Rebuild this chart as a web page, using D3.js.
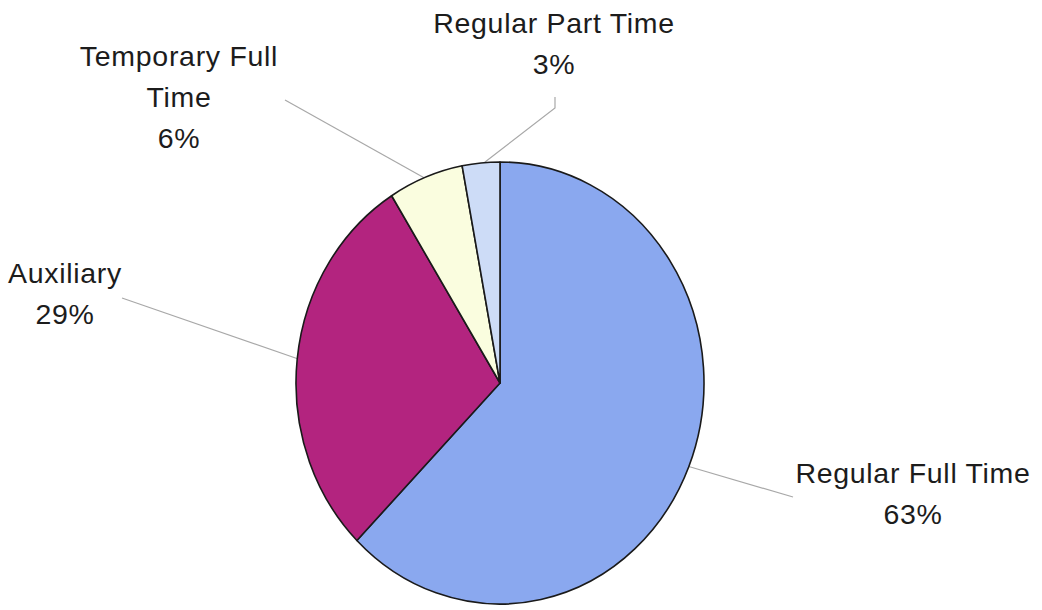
<!DOCTYPE html>
<html>
<head>
<meta charset="utf-8">
<script src="https://cdn.jsdelivr.net/npm/d3@7"></script>
<style>
  html, body { margin: 0; padding: 0; background: #fff; }
  svg { display: block; }
  text { font-family: "Liberation Sans", Arial, sans-serif; fill: #1c1c1c; }
</style>
</head>
<body>
<svg id="chart" width="1042" height="610"></svg>
<script>
// Staff by employment type (share of total, %)
const categories = ["Regular Full Time", "Auxiliary", "Temporary Full Time", "Regular Part Time"];
const values = [63, 29, 6, 3];
const labelLines = [["Regular Full Time"], ["Auxiliary"], ["Temporary Full", "Time"], ["Regular Part Time"]];
const colors = ["#8aa8ef", "#b3247f", "#fafddf", "#cddcf7"];

const width = 1042, height = 610;
const cx = 500, cy = 383;
const ry = 221, rx = 204;          // slightly oval pie
const sx = rx / ry;

const svg = d3.select("#chart");

const pie = d3.pie().sort(null).value(d => d.value);
const arcs = pie(categories.map((c, i) => ({ name: c, value: values[i], lines: labelLines[i], color: colors[i] })));

const arc = d3.arc().innerRadius(0).outerRadius(ry);

// map an angle on the circle to a point on the oval rim
const toOval = (angle, r) => [cx + Math.sin(angle) * r * sx, cy - Math.cos(angle) * r];

// label anchor points and leader waypoints (leaders start at slice mid-angle)
const labelLayout = {
  "Regular Full Time":   { x: 913, y: 483, leader: [[793, 497]] },
  "Auxiliary":           { x: 65,  y: 283, leader: [[122, 298]] },
  "Temporary Full Time": { x: 179, y: 66,  leader: [[285, 100]] },
  "Regular Part Time":   { x: 554, y: 33,  leader: [[555, 108], [555, 97]] }
};

// leader lines drawn first so slices sit above them
const lineGen = d3.line();
arcs.forEach(a => {
  const lay = labelLayout[a.data.name];
  const mid = (a.startAngle + a.endAngle) / 2;
  const pts = [toOval(mid, ry - 2)].concat(lay.leader);
  svg.append("path")
    .attr("d", lineGen(pts.reverse()))
    .attr("fill", "none")
    .attr("stroke", "#a8a8a8")
    .attr("stroke-width", 1.2);
});

const g = svg.append("g")
  .attr("transform", `translate(${cx},${cy}) scale(${sx},1)`);

g.selectAll("path.slice")
  .data(arcs)
  .join("path")
  .attr("class", "slice")
  .attr("d", arc)
  .attr("fill", d => d.data.color)
  .attr("stroke", "#1a1a1a")
  .attr("stroke-width", 1.6)
  .attr("vector-effect", "non-scaling-stroke")
  .attr("stroke-linejoin", "round");

// labels: name lines then percentage
const lineH = 41;
arcs.forEach(a => {
  const lay = labelLayout[a.data.name];
  const t = svg.append("text")
    .attr("text-anchor", "middle")
    .attr("font-size", 28.5)
    .attr("letter-spacing", 0.7);
  const lines = a.data.lines.concat([d3.format(".0f")(a.data.value) + "%"]);
  lines.forEach((ln, i) => {
    t.append("tspan")
      .attr("x", lay.x)
      .attr("y", lay.y + i * lineH)
      .text(ln);
  });
});
</script>
</body>
</html>
